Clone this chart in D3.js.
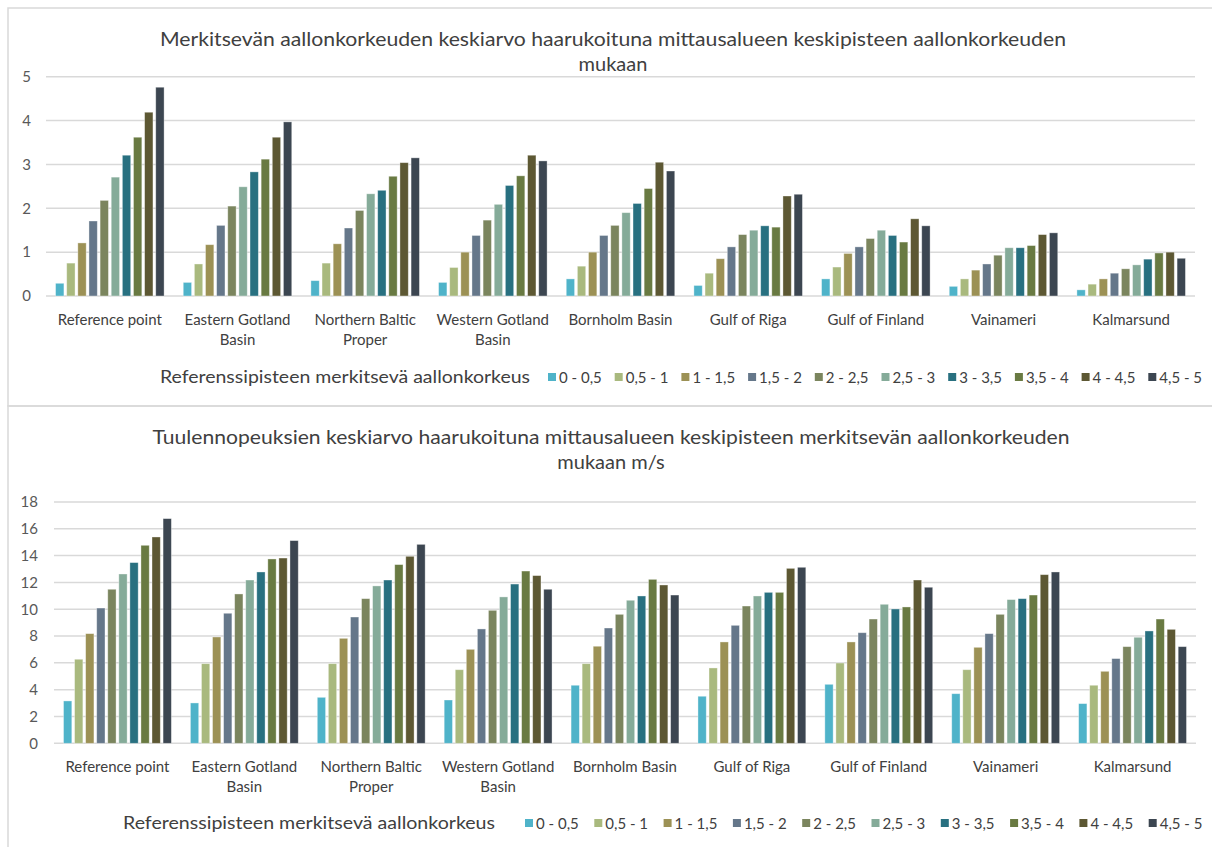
<!DOCTYPE html>
<html>
<head>
<meta charset="utf-8">
<script src="https://cdn.jsdelivr.net/npm/d3@7"></script>
<style>
  html, body { margin: 0; padding: 0; background: #fff; }
  svg { display: block; font-family: Lato, "Open Sans", sans-serif; }
</style>
</head>
<body>
<svg id="chart" width="1212" height="847"></svg>
<script>
// Measurement areas (x axis)
const categories = [
  "Reference point", "Eastern Gotland Basin", "Northern Baltic Proper",
  "Western Gotland Basin", "Bornholm Basin", "Gulf of Riga",
  "Gulf of Finland", "Vainameri", "Kalmarsund"
];

// Significant wave height classes at the reference point (series)
const heightClasses = [
  "0 - 0,5", "0,5 - 1", "1 - 1,5", "1,5 - 2", "2 - 2,5",
  "2,5 - 3", "3 - 3,5", "3,5 - 4", "4 - 4,5", "4,5 - 5"
];

const classColors = [
  "#4fb3c9", "#a9b97e", "#9c9155", "#65778a", "#7b855e",
  "#85ab99", "#287080", "#697a42", "#5d5833", "#3c4651"
];

// Mean significant wave height (m), one row per area, one value per class
const waveMeanRows = [
  [0.29, 0.75, 1.21, 1.71, 2.18, 2.71, 3.21, 3.62, 4.19, 4.76],
  [0.31, 0.73, 1.17, 1.61, 2.05, 2.49, 2.83, 3.12, 3.62, 3.97],
  [0.35, 0.75, 1.19, 1.55, 1.95, 2.33, 2.41, 2.73, 3.04, 3.15],
  [0.31, 0.65, 1.00, 1.38, 1.73, 2.09, 2.52, 2.74, 3.21, 3.08],
  [0.39, 0.68, 1.00, 1.38, 1.61, 1.90, 2.11, 2.45, 3.05, 2.85],
  [0.24, 0.52, 0.85, 1.12, 1.40, 1.50, 1.60, 1.57, 2.28, 2.32],
  [0.39, 0.66, 0.97, 1.12, 1.31, 1.50, 1.38, 1.23, 1.76, 1.60],
  [0.22, 0.39, 0.59, 0.73, 0.93, 1.10, 1.10, 1.15, 1.40, 1.44],
  [0.14, 0.27, 0.39, 0.52, 0.62, 0.71, 0.84, 0.98, 1.00, 0.86]
];

// Mean wind speed (m/s), one row per area, one value per class
const windMeanRows = [
  [3.16, 6.27, 8.18, 10.09, 11.49, 12.63, 13.48, 14.77, 15.39, 16.76],
  [3.01, 5.94, 7.93, 9.70, 11.14, 12.18, 12.78, 13.75, 13.82, 15.12],
  [3.43, 5.94, 7.83, 9.42, 10.79, 11.74, 12.18, 13.33, 13.95, 14.84],
  [3.23, 5.49, 7.01, 8.53, 9.92, 10.92, 11.88, 12.85, 12.51, 11.49],
  [4.33, 5.94, 7.24, 8.60, 9.62, 10.67, 10.99, 12.23, 11.81, 11.06],
  [3.51, 5.62, 7.56, 8.80, 10.24, 10.99, 11.26, 11.26, 13.05, 13.13],
  [4.40, 5.99, 7.56, 8.25, 9.27, 10.37, 10.02, 10.17, 12.18, 11.64],
  [3.70, 5.49, 7.16, 8.18, 9.62, 10.72, 10.79, 11.06, 12.58, 12.78],
  [2.96, 4.33, 5.37, 6.32, 7.21, 7.91, 8.38, 9.27, 8.50, 7.21]
];

const waveTicks = [0, 1, 2, 3, 4, 5];
const windTicks = [0, 2, 4, 6, 8, 10, 12, 14, 16, 18];

const waveTitle = [
  "Merkitsevän aallonkorkeuden keskiarvo haarukoituna mittausalueen keskipisteen aallonkorkeuden",
  "mukaan"
];
const windTitle = [
  "Tuulennopeuksien keskiarvo haarukoituna mittausalueen keskipisteen merkitsevän aallonkorkeuden",
  "mukaan m/s"
];
const axisTitle = "Referenssipisteen merkitsevä aallonkorkeus";

const svg = d3.select("#chart");
const textColor = "#404040";
const gridColor = "#d9d9d9";

// Panel frames
svg.append("rect").attr("x", 8).attr("y", 8).attr("width", 1230).attr("height", 398)
  .attr("fill", "none").attr("stroke", gridColor).attr("stroke-width", 1.5);
svg.append("rect").attr("x", 8).attr("y", 406).attr("width", 1230).attr("height", 460)
  .attr("fill", "none").attr("stroke", gridColor).attr("stroke-width", 1.5);

function wrapLines(textSel, maxWidth) {
  textSel.each(function (d) {
    const t = d3.select(this);
    const words = d.split(" ");
    const x = +t.attr("x");
    const y = +t.attr("y");
    let lines = [];
    let line = [];
    const probe = t.append("tspan").attr("x", x);
    for (const w of words) {
      line.push(w);
      probe.text(line.join(" "));
      if (probe.node().getComputedTextLength() > maxWidth && line.length > 1) {
        line.pop();
        lines.push(line.join(" "));
        line = [w];
      }
    }
    lines.push(line.join(" "));
    probe.remove();
    t.text(null);
    lines.forEach((l, i) => {
      t.append("tspan").attr("x", x).attr("y", y + i * 20).text(l);
    });
  });
}

function drawChart(cfg) {
  const g = svg.append("g");

  const x0 = d3.scaleBand().domain(categories).range([cfg.left, cfg.right]).padding(0);
  const groupW = x0.bandwidth() * 0.85;
  const x1 = d3.scaleBand().domain(heightClasses).range([0, groupW]).paddingInner(0.25).paddingOuter(0);
  const y = d3.scaleLinear().domain([0, d3.max(cfg.ticks)]).range([cfg.bottom, cfg.top]);

  // Title
  cfg.title.forEach((line, i) => {
    const t = g.append("text")
      .attr("x", cfg.titleX).attr("y", cfg.titleY + i * 25)
      .attr("text-anchor", "middle")
      .attr("font-size", 20).attr("fill", textColor)
      .text(line);
    if (i === 0) t.attr("textLength", cfg.titleWidth).attr("lengthAdjust", "spacingAndGlyphs");
  });

  // Horizontal gridlines
  g.append("g").selectAll("line").data(cfg.ticks).join("line")
    .attr("x1", cfg.left).attr("x2", cfg.right)
    .attr("y1", d => y(d)).attr("y2", d => y(d))
    .attr("stroke", gridColor).attr("stroke-width", 1.5);

  // Y axis labels
  const yAxis = d3.axisLeft(y).tickValues(cfg.ticks).tickSize(0).tickPadding(0).tickFormat(d3.format("d"));
  const ya = g.append("g").attr("transform", `translate(${cfg.tickRight},0)`).call(yAxis);
  ya.select(".domain").remove();
  ya.selectAll("text").attr("font-size", 15).attr("fill", "#595959")
    .attr("font-family", "Lato, 'Open Sans', sans-serif");

  // Bars
  const groups = g.append("g").selectAll("g").data(cfg.rows).join("g")
    .attr("transform", (d, i) => `translate(${x0(categories[i]) + (x0.bandwidth() - groupW) / 2},0)`);
  groups.selectAll("rect").data(d => d.map((v, j) => ({ v, j }))).join("rect")
    .attr("x", d => x1(heightClasses[d.j]))
    .attr("y", d => y(d.v))
    .attr("width", x1.bandwidth())
    .attr("height", d => y(0) - y(d.v))
    .attr("fill", d => classColors[d.j])
    .attr("stroke", "#ffffff").attr("stroke-opacity", 0.45).attr("stroke-width", 0.8);

  // Category labels
  g.append("g").selectAll("text").data(categories).join("text")
    .attr("x", d => x0(d) + x0.bandwidth() / 2)
    .attr("y", cfg.labelY)
    .attr("text-anchor", "middle")
    .attr("font-size", 15).attr("fill", textColor)
    .text(d => d)
    .call(wrapLines, 116);

  // Axis title
  g.append("text")
    .attr("x", cfg.axisTitleX).attr("y", cfg.legendY)
    .attr("font-size", 17).attr("fill", textColor)
    .attr("textLength", cfg.axisTitleWidth).attr("lengthAdjust", "spacingAndGlyphs")
    .text(axisTitle);

  // Legend
  const leg = g.append("g").selectAll("g").data(heightClasses).join("g")
    .attr("transform", (d, i) => `translate(${cfg.legendX + i * cfg.legendStep},${cfg.legendY})`);
  leg.append("rect").attr("x", 0).attr("y", -10).attr("width", 8).attr("height", 8)
    .attr("fill", (d, i) => classColors[i]);
  leg.append("text").attr("x", 11).attr("y", 0)
    .attr("font-size", 15).attr("fill", textColor)
    .text(d => d);
}

drawChart({
  rows: waveMeanRows, ticks: waveTicks, title: waveTitle,
  left: 46, right: 1195, top: 76.7, bottom: 296,
  tickRight: 31, titleX: 613, titleY: 46, titleWidth: 906,
  labelY: 325, axisTitleX: 160, axisTitleWidth: 370,
  legendY: 383, legendX: 548, legendStep: 66.7
});

drawChart({
  rows: windMeanRows, ticks: windTicks, title: windTitle,
  left: 54, right: 1196, top: 502, bottom: 743.3,
  tickRight: 38, titleX: 611, titleY: 444, titleWidth: 917,
  labelY: 772, axisTitleX: 123, axisTitleWidth: 372,
  legendY: 829, legendX: 525, legendStep: 69.3
});
</script>
</body>
</html>
